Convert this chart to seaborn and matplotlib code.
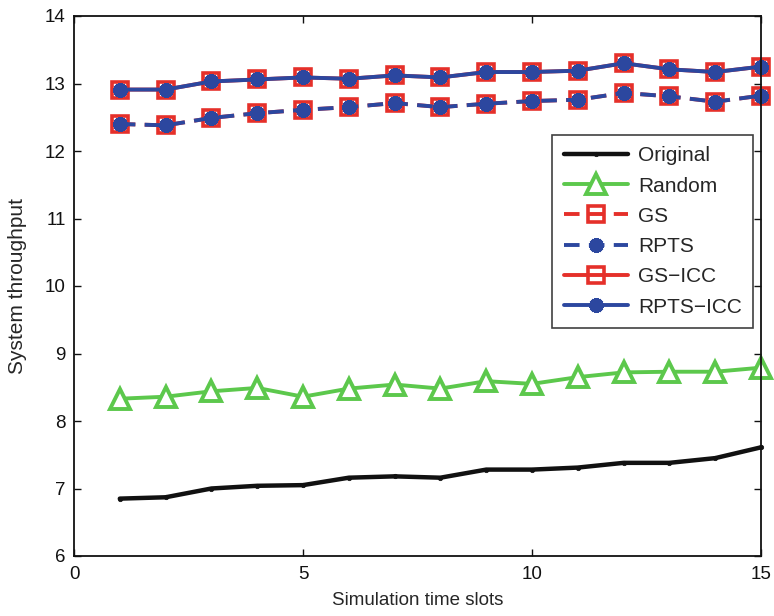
import numpy as np
import pandas as pd
import matplotlib
matplotlib.use("Agg")
import matplotlib.pyplot as plt
import seaborn as sns

slots = list(range(1, 16))
original = [6.85, 6.87, 7.00, 7.04, 7.05, 7.16, 7.18, 7.16, 7.28, 7.28, 7.31, 7.38, 7.38, 7.45, 7.61]
random_ = [8.33, 8.36, 8.44, 8.49, 8.36, 8.48, 8.54, 8.48, 8.59, 8.55, 8.65, 8.72, 8.73, 8.73, 8.79]
gs = [12.40, 12.38, 12.49, 12.56, 12.61, 12.65, 12.71, 12.65, 12.70, 12.74, 12.76, 12.86, 12.81, 12.73, 12.82]
rpts = [12.40, 12.38, 12.49, 12.56, 12.61, 12.65, 12.71, 12.65, 12.70, 12.74, 12.76, 12.86, 12.81, 12.73, 12.82]
gs_icc = [12.91, 12.91, 13.03, 13.06, 13.09, 13.07, 13.12, 13.09, 13.17, 13.17, 13.19, 13.30, 13.21, 13.17, 13.25]
rpts_icc = [12.91, 12.91, 13.03, 13.06, 13.09, 13.07, 13.12, 13.09, 13.17, 13.17, 13.19, 13.30, 13.21, 13.17, 13.25]

series_names = ["Original", "Random", "GS", "RPTS", "GS\u2212ICC", "RPTS\u2212ICC"]
series_vals = [original, random_, gs, rpts, gs_icc, rpts_icc]

sns.set_style("ticks")
plt.rcParams['font.family'] = ['Liberation Sans', 'DejaVu Sans']
plt.rcParams['axes.unicode_minus'] = True

BLACK = "#111111"
GREEN = "#5cc84c"
RED = "#e5302a"
BLUE = "#2c479f"
asterisk = (8, 2, 0)
dash = (0, (4, 2.4))

styles = [
    dict(color=BLACK, lw=3.2, marker='o', ms=3.2, mfc=BLACK, mec=BLACK, mew=0.5, ls='-'),
    dict(color=GREEN, lw=2.8, marker='^', ms=14, mfc='white', mec=GREEN, mew=2.8, ls='-'),
    dict(color=RED, lw=2.8, marker='s', ms=11.5, mfc='none', mec=RED, mew=2.6, ls=dash),
    dict(color=BLUE, lw=2.8, marker=asterisk, ms=10.5, mec=BLUE, mew=3.2, ls=dash),
    dict(color=RED, lw=2.8, marker='s', ms=11.5, mfc='none', mec=RED, mew=2.6, ls='-'),
    dict(color=BLUE, lw=2.8, marker=asterisk, ms=10.5, mec=BLUE, mew=3.2, ls='-'),
]

fig = plt.figure(figsize=(7.74, 6.16), dpi=100)
ax = fig.add_axes([74/774, 1-556/616, (761-74)/774, (556-16)/616])

for name, vals, st in zip(series_names, series_vals, styles):
    df = pd.DataFrame({"slot": slots, "val": vals})
    sns.lineplot(data=df, x="slot", y="val", ax=ax, label=name, clip_on=False, **st)

ax.set_xlim(0, 15)
ax.set_ylim(6, 14)
ax.set_xticks([0, 5, 10, 15])
ax.set_yticks(range(6, 15))
ax.tick_params(direction='in', top=True, right=True, labelsize=13.5, length=5, width=1,
               colors=BLACK)
ax.tick_params(axis='x', pad=7.5)
ax.tick_params(axis='y', pad=6)
for s in ax.spines.values():
    s.set_visible(True)
    s.set_linewidth(1.3)
    s.set_color(BLACK)
ax.set_xlabel("Simulation time slots", fontsize=13.5, labelpad=6)
ax.set_ylabel("System throughput", fontsize=15, labelpad=13)

leg = ax.legend(loc='upper right', bbox_to_anchor=(0.9885, 0.78), fontsize=15,
                frameon=True, fancybox=False, edgecolor=BLACK, handlelength=3.1,
                borderpad=0.55, labelspacing=0.54, handletextpad=0.45, borderaxespad=0)
leg.get_frame().set_linewidth(1.2)

fig.savefig("out.png", dpi=100)
